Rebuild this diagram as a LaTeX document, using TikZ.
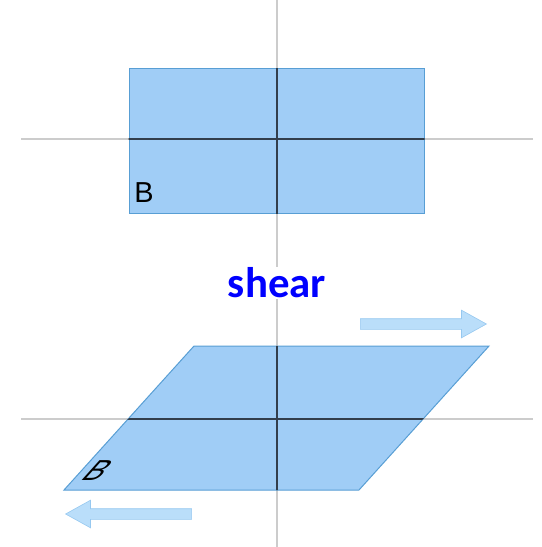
\documentclass[tikz,border=0pt]{standalone}
\usepackage{fontspec}
\setmainfont{Liberation Sans}
\newfontfamily\calfont{Carlito}
\usetikzlibrary{shapes.arrows}
\definecolor{platefill}{RGB}{160,205,246}
\definecolor{plateedge}{RGB}{88,158,212}
\definecolor{arrowfill}{RGB}{186,222,250}
\definecolor{arrowedge}{RGB}{150,200,240}
\definecolor{inline}{RGB}{50,62,76}
\begin{document}
\begin{tikzpicture}[x=1bp, y=-1bp,
  axis/.style={gray!40, line width=1.3bp},
  inaxis/.style={inline, line width=1.3bp},
  plate/.style={draw=plateedge, fill=platefill, line width=1bp},
  push/.style={single arrow, draw=arrowedge, fill=arrowfill, line width=0.6bp,
    minimum height=126bp, minimum width=27bp, inner sep=5bp,
    single arrow head extend=8.5bp, single arrow tip angle=58, anchor=tip},
  letter/.style={font=\fontsize{29}{29}\selectfont, inner sep=0pt}]
\useasboundingbox (0,0) rectangle (542,547);
% axes, top and bottom
\coordinate (TL) at (21,139);  \coordinate (TR) at (533,139);
\coordinate (TT) at (277,0);   \coordinate (TB) at (277,272);
\coordinate (BL) at (21,419);  \coordinate (BR) at (533,419);
\coordinate (BT) at (277,290); \coordinate (BB) at (277,547);
\draw[axis] (TL) -- (TR);
\draw[axis] (TT) -- (TB);
\draw[axis] (BL) -- (BR);
\draw[axis] (BT) -- (BB);
% the square plate
\node[plate, minimum width=295bp, minimum height=144bp, inner sep=0pt] (R) at (276.5,141) {};
\begin{scope}
\clip (R.south west) rectangle (R.north east);
\draw[inaxis] (TL) -- (TR);
\draw[inaxis] (TT) -- (TB);
\end{scope}
\node[letter] (b1) at (144,193) {B};
% the sheared plate
\coordinate (P1) at (64,490);  \coordinate (P2) at (359,490);
\coordinate (P3) at (489,346); \coordinate (P4) at (194,346);
\draw[plate] (P1) -- (P2) -- (P3) -- (P4) -- cycle;
\begin{scope}
\clip (P1) -- (P2) -- (P3) -- (P4) -- cycle;
\draw[inaxis] (BL) -- (BR);
\draw[inaxis] (BT) -- (BB);
\end{scope}
\node[letter, xslant=0.9, transform shape] (b2) at (98,471) {B};
\node[push] (fwd) at (487,324) {};
\node[push, shape border rotate=180] (back) at (65,514) {};
\node[font=\calfont\bfseries\fontsize{43}{43}\selectfont, text=blue, fill=white, inner sep=1pt] (lbl) at (277,283) {shear};
\end{tikzpicture}
\end{document}
